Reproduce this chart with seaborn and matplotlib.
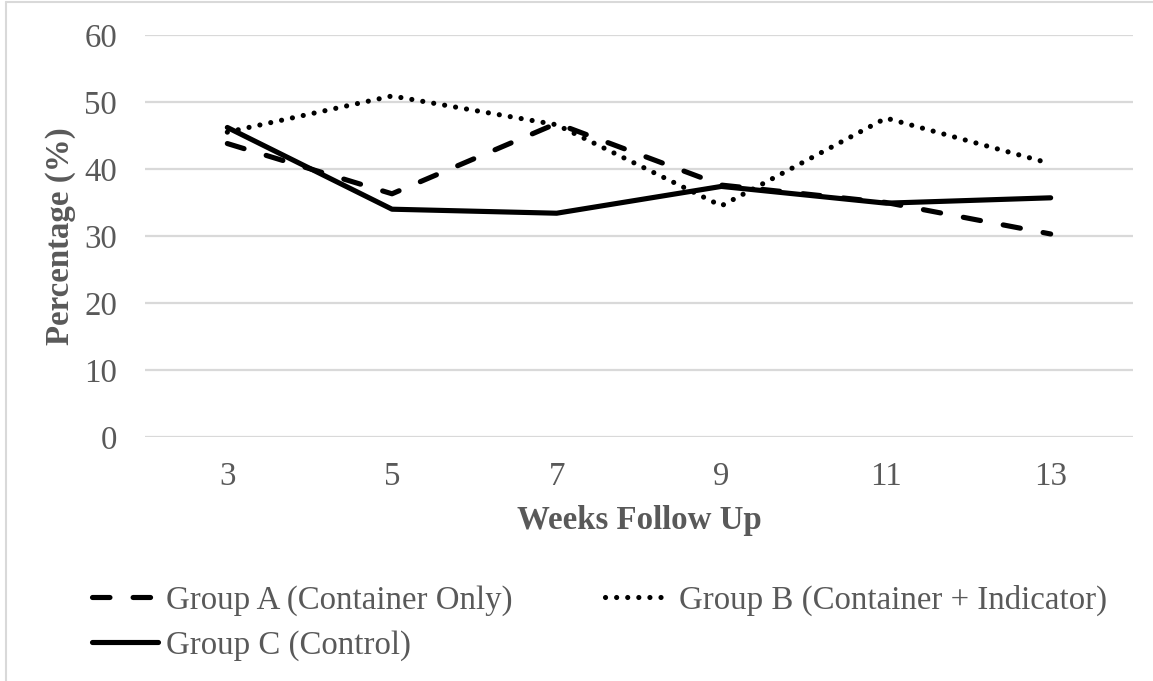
import matplotlib
matplotlib.use("Agg")
import matplotlib.pyplot as plt
from matplotlib.lines import Line2D
import pandas as pd
import seaborn as sns

# Follow-up weeks and percentages per group
weeks = ["3", "5", "7", "9", "11", "13"]
group_a = [43.8, 36.3, 46.8, 37.6, 35.0, 30.3]
group_b = [45.5, 50.9, 46.6, 34.5, 47.6, 40.8]
group_c = [46.2, 34.0, 33.4, 37.4, 34.9, 35.7]

labels = ["Group A (Container Only)", "Group B (Container + Indicator)", "Group C (Control)"]

sns.set_theme(style="white")
plt.rcParams["font.family"] = ["Liberation Serif", "DejaVu Serif"]

TEXT = "#595959"
GRID = "#d9d9d9"
FS = 23.7

W, H = 1153, 681
L, R, T, B = 145, 1133, 35, 437

fig = plt.figure(figsize=(W / 100, H / 100), dpi=100)
ax = fig.add_axes([L / W, 1 - B / H, (R - L) / W, (B - T) / H])

lw = 3.7
styles = {
    labels[0]: dict(linestyle=(0, (3.4, 4.5)), dash_capstyle="round"),
    labels[1]: dict(linestyle=(0, (0.01, 2.15)), dash_capstyle="round"),
    labels[2]: dict(linestyle="-", solid_capstyle="round"),
}

for name, vals in zip(labels, [group_a, group_b, group_c]):
    df = pd.DataFrame({"week": weeks, "pct": vals})
    sns.lineplot(data=df, x="week", y="pct", ax=ax, color="black", linewidth=lw,
                 sort=False, label=name, **styles[name])
    ax.lines[-1].set_solid_joinstyle("round")
    ax.lines[-1].set_dash_joinstyle("round")

ax.set_xlim(-0.5, 5.5)
ax.set_ylim(0, 60)
ax.set_yticks(range(0, 61, 10))
ax.yaxis.grid(True, color=GRID, linewidth=1.6)
ax.xaxis.grid(False)
ax.set_axisbelow(True)
for s in ax.spines.values():
    s.set_visible(False)
ax.tick_params(axis="both", length=0, labelsize=FS, labelcolor=TEXT)
ax.tick_params(axis="y", pad=20)
ax.tick_params(axis="x", pad=17.5)

ax.set_xlabel("Weeks Follow Up", fontsize=FS, fontweight="bold", color=TEXT)
ax.set_ylabel("Percentage (%)", fontsize=FS, fontweight="bold", color=TEXT)
ax.xaxis.set_label_coords(0.5, (B - 520) / (B - T), transform=ax.transAxes)
ax.yaxis.set_label_coords((60 - L) / (R - L), 0.5, transform=ax.transAxes)
ax.xaxis.label.set_va("center")
ax.yaxis.label.set_va("center")

# legend filled row by row: A, B on the first row, C below
handles, hl = ax.get_legend_handles_labels()
ax.get_legend().remove()
order = [0, 2, 1]
fig.legend([handles[i] for i in order], [hl[i] for i in order],
           loc="upper left", bbox_to_anchor=(92 / W, 1 - 585 / H),
           ncol=2, frameon=False, fontsize=FS, labelcolor=TEXT,
           handlelength=2.0, handletextpad=0.25, columnspacing=2.8,
           labelspacing=0.42, borderpad=0, borderaxespad=0)

# chart area border
fig.add_artist(Line2D([6 / W, 1.0], [1 - 2 / H, 1 - 2 / H], color=GRID, linewidth=1.5))
fig.add_artist(Line2D([6 / W, 6 / W], [0.0, 1 - 2 / H], color=GRID, linewidth=1.5))

fig.savefig("out.png", dpi=100, facecolor="white")
